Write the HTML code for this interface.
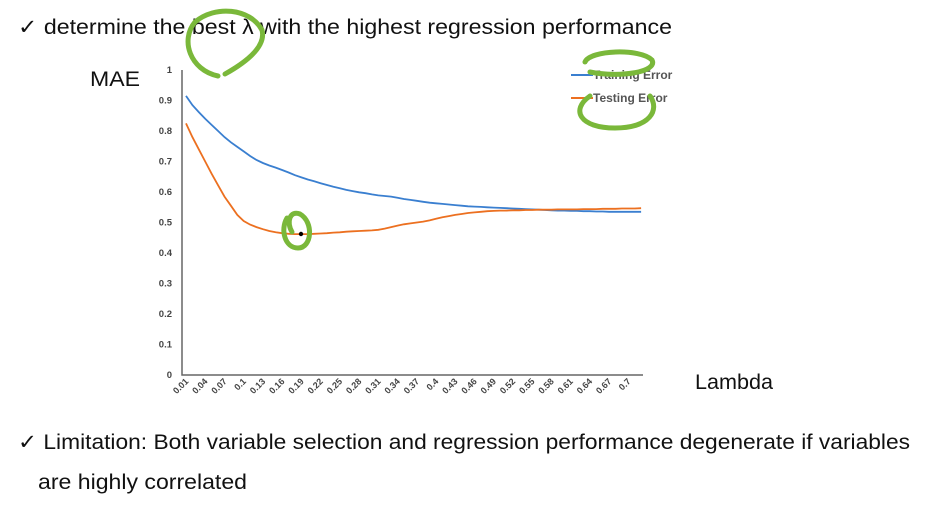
<!DOCTYPE html>
<html><head><meta charset="utf-8"><style>
html,body{margin:0;padding:0;background:#fff;}
svg{display:block;font-family:"Liberation Sans",sans-serif;}
</style></head><body>
<svg id="chart" width="926" height="507" viewBox="0 0 926 507">
<rect width="926" height="507" fill="#fff"/>
<text x="18" y="34" font-size="21" textLength="654" lengthAdjust="spacingAndGlyphs" fill="#111">✓ determine the best λ with the highest regression performance</text>
<text x="90" y="86" font-size="21" textLength="50" lengthAdjust="spacingAndGlyphs" fill="#111">MAE</text>
<text x="695" y="389" font-size="21" textLength="78" lengthAdjust="spacingAndGlyphs" fill="#111">Lambda</text>
<text x="18" y="449" font-size="21" textLength="892" lengthAdjust="spacingAndGlyphs" fill="#111">✓ Limitation: Both variable selection and regression performance degenerate if variables</text>
<text x="38" y="489" font-size="21" textLength="209" lengthAdjust="spacingAndGlyphs" fill="#111">are highly correlated</text>
<g id="plot"></g>
<g>
<line x1="571" y1="75" x2="593" y2="75" stroke="#3a7fd0" stroke-width="2"/>
<text x="593" y="79" font-size="12" font-weight="bold" fill="#555">Training Error</text>
<line x1="571" y1="98" x2="593" y2="98" stroke="#ec7020" stroke-width="2"/>
<text x="593" y="102" font-size="12" font-weight="bold" fill="#555">Testing Error</text>
</g>
<g fill="none" stroke="#7ab83a" stroke-width="5" stroke-linecap="round">
<path d="M218 76 C190 70 180 40 195 22 C215 5 250 8 262 30 C266 45 250 60 225 74"/>
<path d="M585 62 C590 50 640 48 652 60 C658 72 620 78 590 72"/>
<path d="M590 96 C570 110 580 128 615 128 C650 128 660 110 650 96"/>
<path d="M287 218 C280 230 285 248 298 248 C312 248 314 222 300 214 C290 210 286 222 292 232"/>
</g>
<circle cx="301" cy="234" r="2.2" fill="#000"/>
</svg>
<script>
const trainingError=[0.915,0.885,0.862,0.84,0.82,0.80,0.78,0.763,0.748,0.733,0.718,0.705,0.695,0.687,0.68,0.672,0.664,0.655,0.648,0.641,0.635,0.629,0.623,0.617,0.612,0.607,0.603,0.599,0.596,0.592,0.589,0.587,0.585,0.581,0.577,0.574,0.571,0.568,0.565,0.563,0.561,0.559,0.557,0.555,0.553,0.552,0.551,0.55,0.549,0.548,0.547,0.546,0.545,0.544,0.543,0.542,0.541,0.54,0.539,0.539,0.538,0.538,0.537,0.537,0.536,0.536,0.535,0.535,0.535,0.535,0.535,0.535];
const testingError=[0.825,0.78,0.74,0.70,0.66,0.622,0.585,0.555,0.525,0.505,0.493,0.485,0.478,0.472,0.468,0.465,0.463,0.462,0.462,0.462,0.463,0.464,0.465,0.467,0.468,0.47,0.471,0.472,0.473,0.474,0.476,0.48,0.485,0.49,0.494,0.497,0.5,0.503,0.507,0.512,0.517,0.521,0.525,0.528,0.531,0.533,0.535,0.537,0.538,0.539,0.539,0.54,0.54,0.541,0.541,0.542,0.542,0.542,0.543,0.543,0.543,0.543,0.544,0.544,0.544,0.545,0.545,0.545,0.546,0.546,0.546,0.547];
const yTicks=[0,0.1,0.2,0.3,0.4,0.5,0.6,0.7,0.8,0.9,1];
const lambdas=[];for(let i=1;i<=72;i++)lambdas.push(i/100);
const NS='http://www.w3.org/2000/svg';
const g=document.getElementById('plot');
const X0=186,XS=6.41,Y0=375,YS=305;
function x(i){return X0+i*XS;}
function y(v){return Y0-v*YS;}
function mk(t,a){const e=document.createElementNS(NS,t);for(const k in a)e.setAttribute(k,a[k]);g.appendChild(e);return e;}
let ax=mk('path',{d:`M182 70 V375 H643`,stroke:'#666',fill:'none','stroke-width':1.5});


yTicks.forEach(v=>{const t=mk('text',{x:172,y:y(v)+3,'font-size':9.5,'font-weight':'bold','text-anchor':'end',fill:'#444'});t.textContent=String(v);

});
lambdas.forEach((l,i)=>{if(i%3!==0)return;const px=x(i),py=382;const t=mk('text',{x:px+3,y:py,'font-size':9,'font-weight':'bold','text-anchor':'end',fill:'#444',transform:`rotate(-45 ${px+3} ${py})`});t.textContent=String(Math.round(l*100)/100);

});
function line(arr,col,name){const d=arr.map((v,i)=>(i?'L':'M')+x(i).toFixed(1)+' '+y(v).toFixed(1)).join(' ');const p=mk('path',{d:d,stroke:col,fill:'none','stroke-width':1.8});

}
line(trainingError,'#3a7fd0','training-error-line');
line(testingError,'#ec7020','testing-error-line');
</script>
</body></html>
